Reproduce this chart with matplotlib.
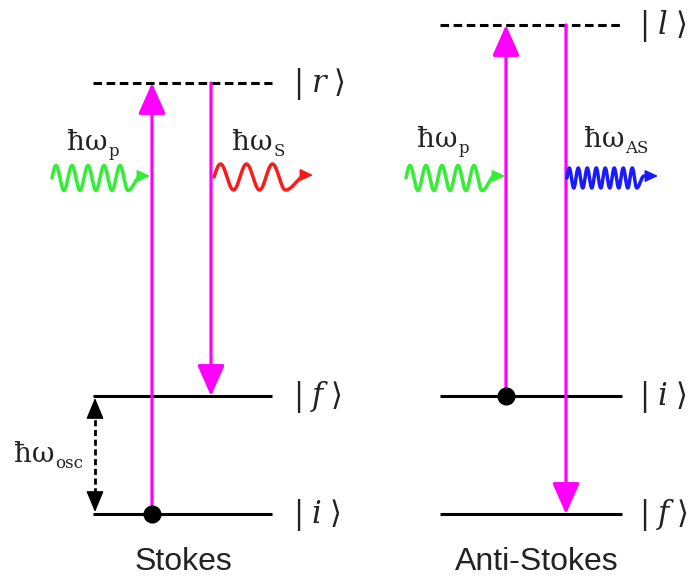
import matplotlib
matplotlib.use("Agg")
import matplotlib.pyplot as plt
import numpy as np

plt.rcParams["mathtext.fontset"] = "dejavuserif"

# ── Diagram data (pixel space of the 695x580 canvas) ──
panel_names = ["Stokes", "Anti-Stokes"]
panel_centers = [183, 537]
level_x0 = [93, 440]
level_x1 = [272, 622]
ket_x = [293, 639]

# levels per panel
stokes_level_names = ["r", "f", "i"]
stokes_level_y = [83, 396, 514]
stokes_level_virtual = [True, False, False]
anti_level_names = ["l", "i", "f"]
anti_level_y = [25, 396, 514]
anti_level_virtual = [True, False, False]

# transitions: (x, from_y, to_y)
stokes_up = (152, 514, 83)
stokes_down = (211, 83, 396)
anti_up = (506, 396, 25)
anti_down = (566, 25, 514)
ground_dots = [(152, 514), (506, 396)]

# photons: x start, x end (arrow tip), centre y, amplitude, period, n periods, colour
photons = [
    (52, 150, 178, 12.5, 16, 4.75, "#33EE33"),
    (214, 313, 177, 13, 26, 2.75, "#FF1A1A"),
    (406, 505, 178, 12.5, 16, 4.75, "#33EE33"),
    (567, 658, 178, 10, 9.0, 7.75, "#1A1AFF"),
]
photon_labels = [(67, 150, "p"), (232, 150, "S"), (417, 147, "p"), (584, 147, "AS")]

MAGENTA = "#FF00FF"
TXT = "#222222"

fig = plt.figure(figsize=(6.95, 5.8), dpi=100)
ax = fig.add_axes([0, 0, 1, 1])
ax.set_xlim(0, 695)
ax.set_ylim(580, 0)
ax.axis("off")

# ── Energy levels and kets ──
panels = [
    (stokes_level_names, stokes_level_y, stokes_level_virtual),
    (anti_level_names, anti_level_y, anti_level_virtual),
]
for p, (names, ys, virt) in enumerate(panels):
    for name, y, v in zip(names, ys, virt):
        ls = (0, (2.8, 1.5)) if v else "-"
        ax.plot([level_x0[p], level_x1[p]], [y, y], color="black", lw=2.2,
                ls=ls, solid_capstyle="butt", zorder=2)
        ax.text(ket_x[p], y + 1, r"$|\;%s\;\rangle$" % name, fontsize=22,
                va="center", ha="left", color=TXT)
    ax.text(panel_centers[p], 562, panel_names[p], fontsize=23,
            family="Liberation Sans", ha="center", va="center", color=TXT)

# ── Transition arrows ──
for x, y0, y1 in [stokes_up, stokes_down, anti_up, anti_down]:
    ax.annotate("", xy=(x, y1), xytext=(x, y0),
                arrowprops=dict(arrowstyle="-|>,head_length=0.95,head_width=0.42",
                                mutation_scale=20, color=MAGENTA, lw=2.3,
                                shrinkA=0, shrinkB=0), zorder=3)

for x, y in ground_dots:
    ax.plot(x, y, "o", ms=12, color="black", zorder=5)

# ── Photons: sine ending in a trough, then a hook up to the arrow ──
for x0, x1, yc, amp, per, n, col in photons:
    xe = x0 + n * per
    xs = np.linspace(x0, xe, 400)
    ys = yc - amp * np.sin(2 * np.pi * (xs - x0) / per)
    hook = np.linspace(0, 1, 60)
    hx = xe + hook * per * 0.8
    hy = yc - 2 + (amp + 2) * (1 + np.cos(np.pi * hook)) / 2
    xs = np.concatenate([xs, hx, [x1 - 6]])
    ys = np.concatenate([ys, hy, [yc - 2]])
    ax.plot(xs, ys, color=col, lw=2.5, solid_capstyle="round",
            solid_joinstyle="round", zorder=4)
    ax.annotate("", xy=(x1, yc - 2), xytext=(x1 - 8, yc - 2),
                arrowprops=dict(arrowstyle="-|>,head_length=0.7,head_width=0.33",
                                mutation_scale=11, color=col, lw=1.2,
                                shrinkA=0, shrinkB=0), zorder=4)

for x, y, sub in photon_labels:
    t = ax.text(x, y, "ħω", fontsize=20, family="DejaVu Serif",
                va="baseline", ha="left", color=TXT)
    ax.annotate(sub, xy=(1, 0), xycoords=t, xytext=(0.5, 0),
                textcoords="offset points", fontsize=12, family="DejaVu Serif",
                va="baseline", ha="left", color=TXT)

# ── Vibrational quantum ──
osc_x = 95
osc_top, osc_bot = stokes_level_y[1], stokes_level_y[2]
ax.plot([osc_x, osc_x], [osc_top + 14, osc_bot - 14], color="black", lw=2,
        ls=(0, (2.2, 1.3)), zorder=2)
for tip, tail in [(osc_top + 2, osc_top + 16), (osc_bot - 2, osc_bot - 16)]:
    ax.annotate("", xy=(osc_x, tip), xytext=(osc_x, tail),
                arrowprops=dict(arrowstyle="-|>,head_length=1.2,head_width=0.5",
                                mutation_scale=11, color="black", lw=1,
                                shrinkA=0, shrinkB=0), zorder=3)
t = ax.text(14, 462, "ħω", fontsize=20, family="DejaVu Serif",
            va="baseline", ha="left", color=TXT)
ax.annotate("osc", xy=(1, 0), xycoords=t, xytext=(0.5, 0),
            textcoords="offset points", fontsize=12, family="DejaVu Serif",
            va="baseline", ha="left", color=TXT)

fig.savefig("out.png", dpi=100, facecolor="white")
